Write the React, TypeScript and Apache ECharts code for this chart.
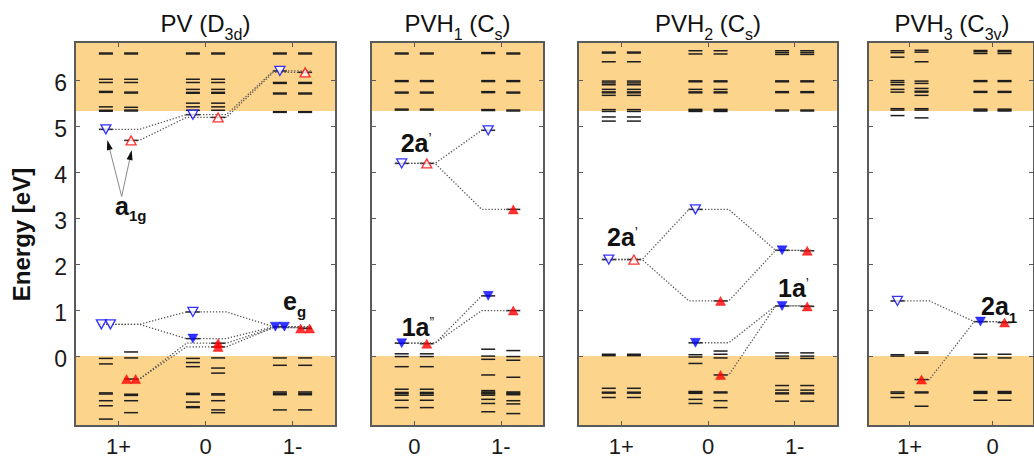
import React, { useEffect, useRef } from 'react';
import * as echarts from 'echarts';

const FONT = '"Liberation Sans", Arial, sans-serif';
const ORANGE = '#fdd48c';
const FRAME = '#5a5a5a';
const BLUE = '#0000ff';
const RED = '#ff0000';
const LEVEL_COLOR = '#1e1e1e';
const DOT_COLOR = '#555555';

const energyMin = -1.52;
const energyMax = 6.83;
const valenceTop = 0;
const conductionBottom = 5.33;
const energyTicks = [0, 1, 2, 3, 4, 5, 6];

// ---------- PV (D3d) ----------
const pvCategories = ['1+', '0', '1-'];
const pvLevelsUp = [
  [6.59, 6.57, 6.02, 5.95, 5.755, 5.735, 5.42, 5.345, 5.325, 4.93, -0.05, -0.17, -0.8, -0.825, -0.97, -1.08, -1.37],
  [6.59, 6.57, 6.02, 5.95, 5.8, 5.735, 5.715, 5.5, 5.42, 5.345, 5.25, 0.96, 0.38, -0.05, -0.14, -0.23, -0.81, -0.835, -1.0, -1.1, -1.12],
  [6.59, 6.57, 6.2, 5.95, 5.93, 5.72, 5.7, 5.315, 5.3, 0.64, -0.04, -0.2, -0.78, -0.81, -0.84, -1.17],
];
const pvLevelsDown = [
  [6.59, 6.57, 6.02, 5.95, 5.74, 5.72, 5.41, 5.35, 5.33, 4.69, 0.09, -0.04, -0.5, -0.83, -0.855, -0.97, -1.23],
  [6.59, 6.57, 6.02, 5.95, 5.8, 5.735, 5.715, 5.5, 5.42, 5.345, 5.19, 0.28, 0.2, -0.04, -0.26, -0.37, -0.82, -0.845, -0.97, -1.17, -1.23],
  [6.59, 6.57, 6.17, 5.95, 5.93, 5.72, 5.7, 5.315, 5.3, 0.6, -0.04, -0.2, -0.78, -0.81, -0.84, -1.17],
];
const pvMarkersUp = [[0, 4.93, 'open'], [1, 5.25, 'open'], [2, 6.2, 'open'], [0, 0.69, 'open2'], [1, 0.96, 'open'], [1, 0.38, 'filled'], [2, 0.64, 'filled2']];
const pvMarkersDown = [[0, 4.69, 'open'], [1, 5.19, 'open'], [2, 6.17, 'open'], [0, -0.5, 'filled2'], [1, 0.28, 'filled'], [1, 0.2, 'filled'], [2, 0.6, 'filled2']];
// track nodes: [category, energy, spin channel: u = up, d = down, b = both]
const pvTracks = [
  [[0, 4.93, 'u'], [1, 5.25, 'u'], [2, 6.2, 'b']],
  [[0, 4.69, 'd'], [1, 5.19, 'd'], [2, 6.17, 'b']],
  [[0, 0.69, 'u'], [1, 0.96, 'u'], [2, 0.64, 'b']],
  [[0, 0.69, 'u'], [1, 0.38, 'u'], [2, 0.64, 'b']],
  [[0, -0.5, 'd'], [1, 0.28, 'd'], [2, 0.62, 'b']],
  [[0, -0.5, 'd'], [1, 0.2, 'd'], [2, 0.62, 'b']],
];

// ---------- PVH1 (Cs) ----------
const pvh1Categories = ['0', '1-'];
const pvh1LevelsUp = [
  [6.59, 6.57, 5.99, 5.97, 5.74, 5.72, 5.37, 5.35, 4.19, 0.28, 0.05, -0.01, -0.23, -0.72, -0.79, -0.815, -0.85, -0.96, -1.12],
  [6.6, 6.58, 5.99, 5.97, 5.75, 5.73, 5.36, 5.34, 4.91, 1.31, 0.15, 0.0, -0.07, -0.41, -0.75, -0.78, -0.8, -0.82, -0.85, -0.94, -1.03, -1.21],
];
const pvh1LevelsDown = [
  [6.59, 6.57, 5.99, 5.97, 5.74, 5.72, 5.37, 5.35, 4.19, 0.27, 0.05, -0.01, -0.23, -0.72, -0.79, -0.815, -0.85, -0.96, -1.12],
  [6.59, 6.57, 5.99, 5.97, 5.74, 5.72, 5.35, 5.33, 3.19, 0.99, 0.12, -0.01, -0.09, -0.46, -0.78, -0.8, -0.82, -0.84, -0.97, -1.04, -1.25],
];
const pvh1MarkersUp = [[0, 4.19, 'open'], [1, 4.91, 'open'], [0, 0.28, 'filled'], [1, 1.31, 'filled']];
const pvh1MarkersDown = [[0, 4.19, 'open'], [1, 3.19, 'filled'], [0, 0.27, 'filled'], [1, 0.99, 'filled']];
const pvh1Tracks = [
  [[0, 4.19, 'b'], [1, 4.91, 'u']],
  [[0, 4.19, 'b'], [1, 3.19, 'd']],
  [[0, 0.28, 'b'], [1, 1.31, 'u']],
  [[0, 0.28, 'b'], [1, 0.99, 'd']],
];

// ---------- PVH2 (Cs) ----------
const pvh2Categories = ['1+', '0', '1-'];
const pvh2LevelsUp = [
  [6.61, 6.59, 6.4, 5.98, 5.94, 5.9, 5.8, 5.745, 5.725, 5.67, 5.36, 5.32, 5.2, 5.11, 2.1, 0.04, 0.01, -0.7, -0.785, -0.805, -0.9],
  [6.64, 6.57, 5.985, 5.965, 5.8, 5.745, 5.725, 5.365, 5.345, 5.32, 3.19, 0.29, 0.03, -0.02, -0.16, -0.77, -0.79, -0.81, -0.94, -1.03],
  [6.64, 6.6, 6.56, 5.985, 5.965, 5.75, 5.73, 5.35, 5.33, 2.3, 1.09, 0.07, 0.0, -0.05, -0.64, -0.74, -0.8, -0.82, -0.98],
];
const pvh2LevelsDown = [
  [6.61, 6.59, 6.4, 5.98, 5.94, 5.9, 5.8, 5.745, 5.725, 5.67, 5.36, 5.32, 5.2, 5.11, 2.1, 0.04, 0.01, -0.7, -0.785, -0.805, -0.9],
  [6.64, 6.57, 5.985, 5.965, 5.8, 5.745, 5.725, 5.365, 5.345, 5.32, 1.2, 0.11, 0.04, -0.04, -0.41, -0.78, -0.8, -0.97, -1.12],
  [6.64, 6.6, 6.56, 5.985, 5.965, 5.75, 5.73, 5.35, 5.33, 2.29, 1.08, 0.07, 0.0, -0.05, -0.64, -0.74, -0.8, -0.82, -0.98],
];
const pvh2MarkersUp = [[0, 2.1, 'open'], [1, 3.19, 'open'], [2, 2.3, 'filled'], [1, 0.29, 'filled'], [2, 1.09, 'filled']];
const pvh2MarkersDown = [[0, 2.1, 'open'], [1, 1.2, 'filled'], [2, 2.29, 'filled'], [1, -0.41, 'filled'], [2, 1.08, 'filled']];
const pvh2Tracks = [
  [[0, 2.1, 'b'], [1, 3.19, 'u'], [2, 2.3, 'b']],
  [[0, 2.1, 'b'], [1, 1.2, 'd'], [2, 2.3, 'b']],
  [[1, 0.29, 'u'], [2, 1.09, 'b']],
  [[1, -0.41, 'd'], [2, 1.09, 'b']],
];

// ---------- PVH3 (C3v) ----------
const pvh3Categories = ['1+', '0'];
const pvh3LevelsUp = [
  [6.64, 6.6, 6.5, 5.99, 5.95, 5.9, 5.8, 5.74, 5.38, 5.35, 5.23, 1.2, 0.03, 0.0, -0.78, -0.81, -0.9],
  [6.645, 6.62, 6.58, 5.99, 5.97, 5.755, 5.735, 5.37, 5.35, 5.33, 0.75, 0.04, -0.04, -0.77, -0.79, -0.81, -0.96],
];
const pvh3LevelsDown = [
  [6.65, 6.61, 6.4, 5.98, 5.93, 5.82, 5.76, 5.74, 5.67, 5.38, 5.35, 5.18, 0.09, 0.06, -0.51, -0.78, -0.8, -1.09],
  [6.645, 6.62, 6.58, 5.99, 5.97, 5.755, 5.735, 5.37, 5.35, 5.33, 0.73, 0.04, -0.04, -0.77, -0.79, -0.81, -0.96],
];
const pvh3MarkersUp = [[0, 1.2, 'open'], [1, 0.75, 'filled']];
const pvh3MarkersDown = [[0, -0.51, 'filled'], [1, 0.73, 'filled']];
const pvh3Tracks = [
  [[0, 1.2, 'u'], [1, 0.75, 'b']],
  [[0, -0.51, 'd'], [1, 0.75, 'b']],
];

type Piece = { text: string; size: number; dy: number; weight?: string };

const panels = [
  {
    title: [{ text: 'PV (D', size: 24, dy: 0 }, { text: '3d', size: 16, dy: 8 }, { text: ')', size: 24, dy: 0 }],
    categories: pvCategories, levelsUp: pvLevelsUp, levelsDown: pvLevelsDown,
    markersUp: pvMarkersUp, markersDown: pvMarkersDown, tracks: pvTracks,
  },
  {
    title: [{ text: 'PVH', size: 24, dy: 0 }, { text: '1', size: 16, dy: 8 }, { text: ' (C', size: 24, dy: 0 }, { text: 's', size: 16, dy: 8 }, { text: ')', size: 24, dy: 0 }],
    categories: pvh1Categories, levelsUp: pvh1LevelsUp, levelsDown: pvh1LevelsDown,
    markersUp: pvh1MarkersUp, markersDown: pvh1MarkersDown, tracks: pvh1Tracks,
  },
  {
    title: [{ text: 'PVH', size: 24, dy: 0 }, { text: '2', size: 16, dy: 8 }, { text: ' (C', size: 24, dy: 0 }, { text: 's', size: 16, dy: 8 }, { text: ')', size: 24, dy: 0 }],
    categories: pvh2Categories, levelsUp: pvh2LevelsUp, levelsDown: pvh2LevelsDown,
    markersUp: pvh2MarkersUp, markersDown: pvh2MarkersDown, tracks: pvh2Tracks,
  },
  {
    title: [{ text: 'PVH', size: 24, dy: 0 }, { text: '3', size: 16, dy: 8 }, { text: ' (C', size: 24, dy: 0 }, { text: '3v', size: 16, dy: 8 }, { text: ')', size: 24, dy: 0 }],
    categories: pvh3Categories, levelsUp: pvh3LevelsUp, levelsDown: pvh3LevelsDown,
    markersUp: pvh3MarkersUp, markersDown: pvh3MarkersDown, tracks: pvh3Tracks,
  },
];

const gridBoxes = [
  { left: 75, width: 261 },
  { left: 371, width: 173 },
  { left: 578, width: 260 },
  { left: 868, width: 168 },
];
const GRID_TOP = 42;
const GRID_HEIGHT = 384;

const COLUMN_OFFSET = 0.145;
const PAIR_OFFSET = 0.052;
const TRACK_LEFT = 0.22;
const TRACK_RIGHT = 0.24;
const TRACK_MARKER_PAD = 0.07;

let measureCtx: CanvasRenderingContext2D | null = null;
function measure(text: string, size: number, weight: string) {
  if (!measureCtx) measureCtx = document.createElement('canvas').getContext('2d');
  measureCtx!.font = `${weight} ${size}px ${FONT}`;
  return measureCtx!.measureText(text).width;
}

function composite(pieces: Piece[], x: number, baseline: number, align: 'left' | 'center', weight: string) {
  const widths = pieces.map((p) => measure(p.text, p.size, p.weight || weight));
  const total = widths.reduce((a, b) => a + b, 0);
  let cx = align === 'center' ? x - total / 2 : x;
  return pieces.map((p, i) => {
    const el = {
      type: 'text',
      x: cx,
      y: baseline + p.dy - 0.3465 * p.size,
      z: 100,
      silent: true,
      style: {
        text: p.text,
        fontSize: p.size,
        fontWeight: p.weight || weight,
        fontFamily: FONT,
        fill: '#111111',
        align: 'left',
        verticalAlign: 'middle',
        textAlign: 'left',
        textVerticalAlign: 'middle',
      },
    };
    cx += widths[i];
    return el;
  });
}

function arrow(x1: number, y1: number, x2: number, y2: number) {
  const dx = x2 - x1;
  const dy = y2 - y1;
  const len = Math.hypot(dx, dy);
  const ux = dx / len;
  const uy = dy / len;
  const headLen = 10;
  const half = 3;
  const bx = x2 - ux * headLen;
  const by = y2 - uy * headLen;
  return [
    { type: 'line', z: 100, silent: true, shape: { x1, y1, x2: bx, y2: by }, style: { stroke: '#8a8a8a', lineWidth: 1 } },
    {
      type: 'polygon', z: 100, silent: true,
      shape: { points: [[x2, y2], [bx - uy * half, by + ux * half], [bx + uy * half, by - ux * half]] },
      style: { fill: '#111111' },
    },
  ];
}

function markerItems(list: any[], spin: 'up' | 'down') {
  const color = spin === 'up' ? BLUE : RED;
  const base = spin === 'up' ? -COLUMN_OFFSET : COLUMN_OFFSET;
  const items: any[] = [];
  list.forEach(([c, e, kind]) => {
    const filled = String(kind).startsWith('filled');
    const xs = String(kind).endsWith('2') ? [c + base - PAIR_OFFSET, c + base + PAIR_OFFSET] : [c + base];
    xs.forEach((x) => {
      items.push({
        value: [x, e],
        symbolRotate: spin === 'up' ? 180 : 0,
        itemStyle: filled
          ? { color, borderColor: color, borderWidth: 0.5 }
          : { color: '#ffffff', borderColor: color, borderWidth: 1.3 },
      });
    });
  });
  return items;
}

function trackData(track: any[]) {
  const data: number[][] = [];
  track.forEach(([c, e, s], i) => {
    let start = c - TRACK_LEFT;
    let end = c + TRACK_RIGHT;
    if (i === 0) {
      start = (s === 'd' ? c + COLUMN_OFFSET : c - COLUMN_OFFSET) - TRACK_MARKER_PAD;
    }
    if (i === track.length - 1) {
      end = (s === 'u' ? c - COLUMN_OFFSET : c + COLUMN_OFFSET) + TRACK_MARKER_PAD;
    }
    data.push([start, e]);
    data.push([end, e]);
  });
  return data;
}

function buildOption() {
  const grid: any[] = [];
  const xAxis: any[] = [];
  const yAxis: any[] = [];
  const series: any[] = [];
  const graphic: any[] = [];

  panels.forEach((panel, gi) => {
    const box = gridBoxes[gi];
    grid.push({ left: box.left, top: GRID_TOP, width: box.width, height: GRID_HEIGHT, containLabel: false });
    const cats = panel.categories;
    const catIdx = cats.map((_, i) => i);
    const common = {
      type: 'value',
      gridIndex: gi,
      min: -0.5,
      max: cats.length - 0.5,
      z: 10,
      splitLine: { show: false },
      axisLine: { show: true, onZero: false, lineStyle: { color: FRAME, width: 2 } },
      axisTick: { show: true, inside: true, length: 5, customValues: catIdx, lineStyle: { color: FRAME, width: 1 } },
    };
    xAxis.push({
      ...common,
      position: 'bottom',
      axisLabel: {
        show: true, customValues: catIdx, formatter: (v: number) => cats[Math.round(v)] ?? '',
        fontSize: 22, color: '#1a1a1a', fontFamily: FONT, margin: 9,
      },
    });
    xAxis.push({ ...common, position: 'top', axisLabel: { show: false } });

    const ycommon = {
      type: 'value',
      gridIndex: gi,
      min: energyMin,
      max: energyMax,
      z: 10,
      splitLine: { show: false },
      axisLine: { show: true, onZero: false, lineStyle: { color: FRAME, width: 2 } },
      axisTick: { show: true, inside: true, length: 5, customValues: energyTicks, lineStyle: { color: FRAME, width: 1 } },
    };
    yAxis.push({
      ...ycommon,
      position: 'left',
      axisLabel: {
        show: gi === 0, customValues: energyTicks, fontSize: 23, color: '#1a1a1a', fontFamily: FONT, margin: 8,
        verticalAlign: 'top', lineHeight: 6,
      },
    });
    yAxis.push({ ...ycommon, position: 'right', axisLabel: { show: false } });

    const xi = 2 * gi;
    const yi = 2 * gi;

    // band backgrounds (valence band below 0, conduction band above CBM)
    series.push({
      type: 'line', xAxisIndex: xi, yAxisIndex: yi, data: [], silent: true, z: 1,
      symbol: 'none',
      markArea: {
        silent: true,
        itemStyle: { color: ORANGE, opacity: 1, borderWidth: 0 },
        data: [
          [{ yAxis: energyMin }, { yAxis: valenceTop }],
          [{ yAxis: conductionBottom }, { yAxis: energyMax }],
        ],
      },
    });

    // levels
    const levelData: number[][] = [];
    panel.levelsUp.forEach((col, c) => col.forEach((e) => levelData.push([c - COLUMN_OFFSET, e])));
    panel.levelsDown.forEach((col, c) => col.forEach((e) => levelData.push([c + COLUMN_OFFSET, e])));
    series.push({
      type: 'scatter', xAxisIndex: xi, yAxisIndex: yi, silent: true, z: 3,
      symbol: 'rect', symbolSize: [14, 1.5],
      itemStyle: { color: LEVEL_COLOR, opacity: 1 },
      data: levelData,
    });

    // dotted tracks
    panel.tracks.forEach((track) => {
      series.push({
        type: 'line', xAxisIndex: xi, yAxisIndex: yi, silent: true, z: 4,
        showSymbol: false, symbol: 'none',
        lineStyle: { color: DOT_COLOR, width: 1.3, type: [1.3, 1.8] },
        data: trackData(track),
      });
    });

    // markers
    series.push({
      type: 'scatter', xAxisIndex: xi, yAxisIndex: yi, silent: true, z: 5,
      symbol: 'triangle', symbolSize: [10, 9],
      data: [...markerItems(panel.markersUp, 'up'), ...markerItems(panel.markersDown, 'down')],
    });

    // title
    graphic.push(...composite(panel.title as Piece[], box.left + (gi === 3 ? 84 : box.width / 2), 31.7, 'center', 'normal'));
  });

  // annotations
  graphic.push(...composite([{ text: 'a', size: 25, dy: 0 }, { text: '1g', size: 15, dy: 6 }], 115, 215, 'left', 'bold'));
  graphic.push(...arrow(121.7, 196.5, 107.3, 140));
  graphic.push(...arrow(121.7, 196.5, 131.7, 150));
  graphic.push(...composite([{ text: 'e', size: 25, dy: 0 }, { text: 'g', size: 15, dy: 7 }], 283, 310, 'left', 'bold'));
  graphic.push(...composite([{ text: '2a', size: 25, dy: 0 }, { text: '\u2019', size: 14, dy: -9, weight: 'normal' }], 400.7, 151.7, 'left', 'bold'));
  graphic.push(...composite([{ text: '1a', size: 25, dy: 0 }, { text: '\u201D', size: 14, dy: -9, weight: 'normal' }], 401.7, 336, 'left', 'bold'));
  graphic.push(...composite([{ text: '2a', size: 25, dy: 0 }, { text: '\u2019', size: 14, dy: -9, weight: 'normal' }], 607, 246, 'left', 'bold'));
  graphic.push(...composite([{ text: '1a', size: 25, dy: 0 }, { text: '\u2019', size: 14, dy: -9, weight: 'normal' }], 778, 296.7, 'left', 'bold'));
  graphic.push(...composite([{ text: '2a', size: 25, dy: 0 }, { text: '1', size: 15, dy: 8 }], 981, 315, 'left', 'bold'));

  // y axis name
  graphic.push({
    type: 'text', x: 21.7, y: 234.5, rotation: Math.PI / 2, z: 100, silent: true,
    style: {
      text: 'Energy [eV]', fontSize: 24, fontWeight: 'bold', fontFamily: FONT, fill: '#111111',
      align: 'center', verticalAlign: 'middle', textAlign: 'center', textVerticalAlign: 'middle',
    },
  });

  return {
    animation: false,
    backgroundColor: '#ffffff',
    textStyle: { fontFamily: FONT },
    grid, xAxis, yAxis, series, graphic,
  };
}

export default function App() {
  const ref = useRef<HTMLDivElement>(null);
  useEffect(() => {
    if (!ref.current) return;
    const chart = echarts.init(ref.current, null, { renderer: 'svg' });
    chart.setOption(buildOption() as any);
    return () => chart.dispose();
  }, []);
  return <div ref={ref} style={{ position: 'fixed', left: 0, top: 0, width: 1034, height: 466 }} />;
}
